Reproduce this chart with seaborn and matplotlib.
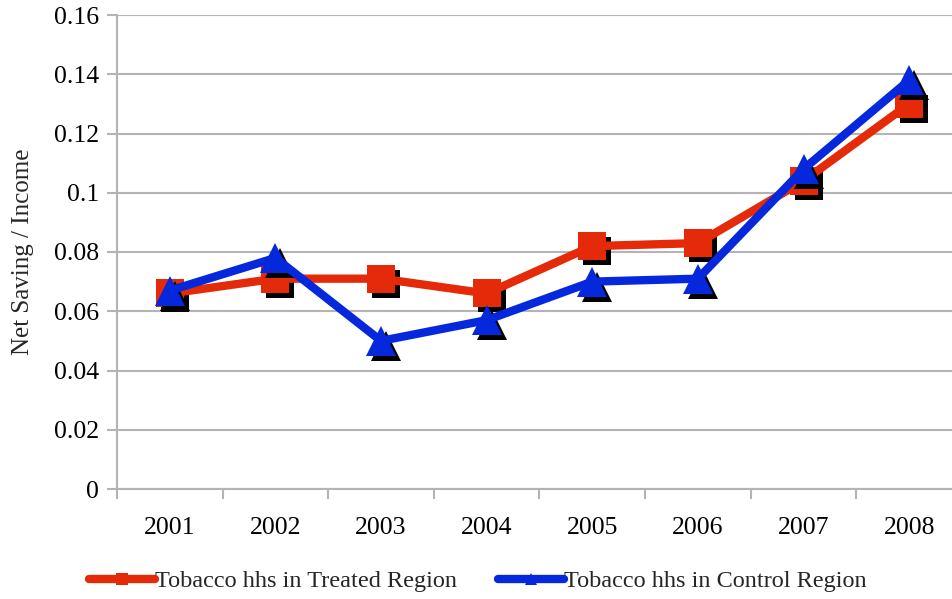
import matplotlib
matplotlib.use("Agg")
import matplotlib.pyplot as plt
import matplotlib.transforms as mtransforms
from matplotlib.lines import Line2D
import seaborn as sns
import pandas as pd
import numpy as np

years = ["2001", "2002", "2003", "2004", "2005", "2006", "2007", "2008"]
treated = [0.066, 0.071, 0.071, 0.066, 0.082, 0.083, 0.104, 0.130]
control = [0.067, 0.078, 0.050, 0.057, 0.070, 0.071, 0.108, 0.138]
y_ticks = [0, 0.02, 0.04, 0.06, 0.08, 0.10, 0.12, 0.14, 0.16]
y_tick_labels = ["0", "0.02", "0.04", "0.06", "0.08", "0.1", "0.12", "0.14", "0.16"]
series_names = ["Tobacco hhs in Treated Region", "Tobacco hhs in Control Region"]

RED = "#E42A08"
BLUE = "#0528DC"
GRID = "#B4B4B4"

sns.set_theme(style="white")
plt.rcParams["font.family"] = ["Liberation Serif", "DejaVu Serif"]

fig = plt.figure(figsize=(9.53, 5.99), dpi=100)
ax = fig.add_axes([117 / 953, 1 - 489 / 599, (962 - 117) / 953, (489 - 15) / 599])

pos = np.arange(len(years))
df = pd.DataFrame({"pos": pos, "treated": treated, "control": control})

shadow = mtransforms.offset_copy(ax.transData, fig=fig, x=5, y=-5, units="dots")

specs = [("treated", RED, "s", 19.5), ("control", BLUE, "^", 21.5)]
for i, (col, color, marker, ms) in enumerate(specs):
    z = 3 + i * 3
    # drop shadow under the markers
    ax.plot(df["pos"], df[col], linestyle="none", marker=marker, markersize=ms,
            color="black", markeredgewidth=0, transform=shadow, zorder=z)
    sns.lineplot(data=df, x="pos", y=col, ax=ax, color=color, linewidth=6,
                 marker=marker, markersize=ms, markeredgewidth=0, zorder=z + 1,
                 legend=False)

ax.set_xlim(-0.5, len(years) - 0.5)
ax.set_ylim(0, 0.16)
ax.set_yticks(y_ticks)
ax.set_yticklabels(y_tick_labels)
ax.set_xticks(pos)
ax.set_xticklabels(years)
ax.set_xticks(np.arange(-0.5, len(years) + 0.5, 1), minor=True)
ax.tick_params(axis="x", which="major", length=0, pad=20, labelsize=18.5, colors="black")
ax.tick_params(axis="x", which="minor", length=7, width=1.5, color=GRID, direction="out")
ax.tick_params(axis="y", which="major", length=7, width=1.5, color=GRID, direction="out",
               pad=6, labelsize=18.5, labelcolor="black")
ax.tick_params(axis="x", which="major", bottom=False)
ax.xaxis.set_tick_params(which="minor", bottom=True)
ax.yaxis.set_tick_params(left=True)

ax.grid(axis="y", color=GRID, linewidth=1.5)
ax.set_axisbelow(True)
for side in ["top", "right"]:
    ax.spines[side].set_visible(False)
for side in ["left", "bottom"]:
    ax.spines[side].set_color(GRID)
    ax.spines[side].set_linewidth(1.5)

ax.set_xlabel("")
ax.set_ylabel("Net Saving / Income", fontsize=18, labelpad=14)

handles = [
    Line2D([], [], color=RED, linewidth=6, marker="s", markersize=8, markeredgewidth=0),
    Line2D([], [], color=BLUE, linewidth=6, marker="^", markersize=9, markeredgewidth=0),
]
fig.legend(handles, series_names, loc="center", bbox_to_anchor=(478 / 953, 1 - 581 / 599),
           ncol=2, frameon=False, fontsize=17.5, handlelength=2.7, handletextpad=0.0,
           columnspacing=1.7, borderpad=0, borderaxespad=0)

fig.savefig("out.png", dpi=100)
